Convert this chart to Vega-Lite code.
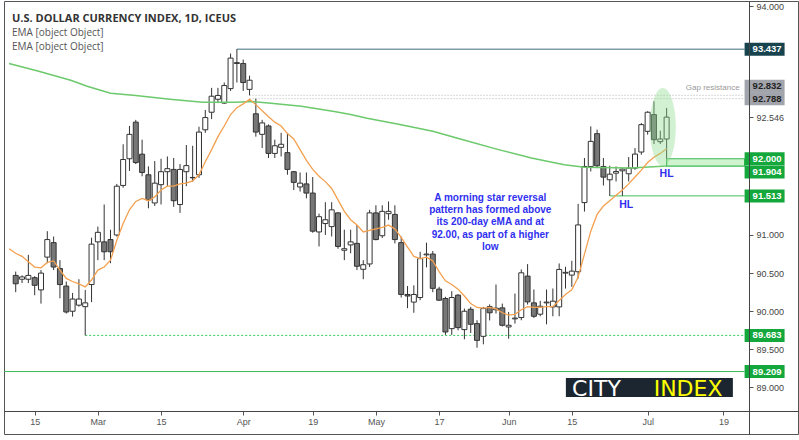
{
  "$schema": "https://vega.github.io/schema/vega-lite/v6.json",
  "width": 794,
  "height": 433,
  "autosize": {"type": "none"},
  "padding": {"left": 4, "top": 1, "right": 1, "bottom": 6},
  "background": "white",
  "config": {"view": {"stroke": "#555555", "strokeWidth": 1}},
  "title": {
    "text": "U.S. DOLLAR CURRENCY INDEX, 1D, ICEUS",
    "subtitle": ["EMA [object Object]", "EMA [object Object]"],
    "anchor": "start",
    "frame": "group",
    "orient": "top",
    "offset": -51,
    "dx": 8,
    "font": "Open Sans",
    "fontSize": 11,
    "fontWeight": "bold",
    "color": "#333333",
    "subtitleFont": "Open Sans",
    "subtitleFontSize": 10,
    "subtitleColor": "#555555",
    "subtitlePadding": 4,
    "subtitleLineHeight": 14
  },
  "datasets": {
    "candles": [
      {"t": -3, "o": 90.47, "h": 90.52, "l": 90.25, "c": 90.36},
      {"t": -2, "o": 90.42, "h": 90.47, "l": 90.37, "c": 90.45},
      {"t": -1, "o": 90.42, "h": 90.74, "l": 90.37, "c": 90.47},
      {"t": 0, "o": 90.44, "h": 90.46, "l": 90.21, "c": 90.34},
      {"t": 1, "o": 90.28, "h": 90.54, "l": 90.10, "c": 90.50},
      {"t": 2, "o": 90.71, "h": 91.05, "l": 90.63, "c": 90.94},
      {"t": 3, "o": 90.90, "h": 90.98, "l": 90.54, "c": 90.58},
      {"t": 4, "o": 90.56, "h": 90.67, "l": 90.17, "c": 90.35},
      {"t": 5, "o": 90.33, "h": 90.39, "l": 89.97, "c": 89.99},
      {"t": 6, "o": 90.00, "h": 90.24, "l": 89.93, "c": 90.16},
      {"t": 7, "o": 90.08, "h": 90.42, "l": 90.06, "c": 90.16},
      {"t": 8, "o": 90.06, "h": 90.28, "l": 89.683, "c": 90.11},
      {"t": 9, "o": 90.35, "h": 90.965, "l": 90.12, "c": 90.88},
      {"t": 10, "o": 90.91, "h": 91.11, "l": 90.67, "c": 91.035},
      {"t": 11, "o": 90.91, "h": 91.40, "l": 90.67, "c": 90.78},
      {"t": 12, "o": 90.94, "h": 91.07, "l": 90.63, "c": 90.78},
      {"t": 13, "o": 91.00, "h": 91.67, "l": 90.98, "c": 91.64},
      {"t": 14, "o": 91.65, "h": 92.19, "l": 91.62, "c": 91.99},
      {"t": 15, "o": 92.00, "h": 92.43, "l": 91.84, "c": 92.32},
      {"t": 16, "o": 92.48, "h": 92.51, "l": 91.93, "c": 91.95},
      {"t": 17, "o": 92.06, "h": 92.25, "l": 91.77, "c": 91.82},
      {"t": 18, "o": 91.79, "h": 91.90, "l": 91.35, "c": 91.46},
      {"t": 19, "o": 91.42, "h": 91.97, "l": 91.38, "c": 91.68},
      {"t": 20, "o": 91.66, "h": 92.00, "l": 91.40, "c": 91.83},
      {"t": 21, "o": 91.83, "h": 92.03, "l": 91.64, "c": 91.87},
      {"t": 22, "o": 91.86, "h": 92.01, "l": 91.37, "c": 91.45},
      {"t": 23, "o": 91.40, "h": 91.93, "l": 91.29, "c": 91.86},
      {"t": 24, "o": 91.83, "h": 92.18, "l": 91.64, "c": 91.91},
      {"t": 25, "o": 91.75, "h": 92.17, "l": 91.70, "c": 91.755},
      {"t": 26, "o": 91.79, "h": 92.42, "l": 91.75, "c": 92.35},
      {"t": 27, "o": 92.38, "h": 92.64, "l": 92.34, "c": 92.54},
      {"t": 28, "o": 92.61, "h": 92.93, "l": 92.52, "c": 92.82},
      {"t": 29, "o": 92.78, "h": 92.93, "l": 92.73, "c": 92.83},
      {"t": 30, "o": 92.73, "h": 93.00, "l": 92.72, "c": 92.96},
      {"t": 31, "o": 92.92, "h": 93.38, "l": 92.89, "c": 93.32},
      {"t": 32, "o": 93.26, "h": 93.437, "l": 93.00, "c": 93.25},
      {"t": 33, "o": 93.25, "h": 93.30, "l": 92.89, "c": 93.00},
      {"t": 34, "o": 92.91, "h": 93.09, "l": 92.832, "c": 93.03},
      {"t": 35, "o": 92.59, "h": 92.788, "l": 92.29, "c": 92.35},
      {"t": 36, "o": 92.32, "h": 92.51, "l": 92.14, "c": 92.47},
      {"t": 37, "o": 92.43, "h": 92.45, "l": 92.01, "c": 92.07},
      {"t": 38, "o": 92.07, "h": 92.25, "l": 92.01, "c": 92.17},
      {"t": 39, "o": 92.15, "h": 92.34, "l": 92.03, "c": 92.19},
      {"t": 40, "o": 92.08, "h": 92.34, "l": 91.79, "c": 91.86},
      {"t": 41, "o": 91.83, "h": 91.84, "l": 91.59, "c": 91.69},
      {"t": 42, "o": 91.63, "h": 91.82, "l": 91.57, "c": 91.68},
      {"t": 43, "o": 91.67, "h": 91.82, "l": 91.48, "c": 91.55},
      {"t": 44, "o": 91.55, "h": 91.76, "l": 91.03, "c": 91.05},
      {"t": 45, "o": 91.04, "h": 91.28, "l": 90.85, "c": 91.24},
      {"t": 46, "o": 91.15, "h": 91.43, "l": 91.00, "c": 91.20},
      {"t": 47, "o": 91.11, "h": 91.43, "l": 90.98, "c": 91.33},
      {"t": 48, "o": 91.29, "h": 91.30, "l": 90.82, "c": 90.85},
      {"t": 49, "o": 90.80, "h": 91.07, "l": 90.67, "c": 90.82},
      {"t": 50, "o": 90.87, "h": 91.07, "l": 90.76, "c": 90.91},
      {"t": 51, "o": 90.89, "h": 91.13, "l": 90.54, "c": 90.59},
      {"t": 52, "o": 90.55, "h": 90.67, "l": 90.42, "c": 90.61},
      {"t": 53, "o": 90.62, "h": 91.33, "l": 90.58, "c": 91.29},
      {"t": 54, "o": 91.29, "h": 91.39, "l": 90.93, "c": 90.94},
      {"t": 55, "o": 90.99, "h": 91.39, "l": 90.96, "c": 91.31},
      {"t": 56, "o": 91.28, "h": 91.44, "l": 91.20, "c": 91.31},
      {"t": 57, "o": 91.27, "h": 91.39, "l": 90.89, "c": 90.94},
      {"t": 58, "o": 90.90, "h": 90.98, "l": 90.18, "c": 90.22},
      {"t": 59, "o": 90.22, "h": 90.33, "l": 90.04, "c": 90.20},
      {"t": 60, "o": 90.12, "h": 90.34, "l": 89.98, "c": 90.22},
      {"t": 61, "o": 90.18, "h": 90.78, "l": 90.145, "c": 90.69},
      {"t": 62, "o": 90.74, "h": 90.90, "l": 90.575, "c": 90.75},
      {"t": 63, "o": 90.75, "h": 90.79, "l": 90.25, "c": 90.30},
      {"t": 64, "o": 90.29, "h": 90.32, "l": 90.136, "c": 90.145},
      {"t": 65, "o": 90.167, "h": 90.19, "l": 89.69, "c": 89.728},
      {"t": 66, "o": 89.772, "h": 90.263, "l": 89.69, "c": 90.18},
      {"t": 67, "o": 90.211, "h": 90.224, "l": 89.75, "c": 89.785},
      {"t": 68, "o": 89.759, "h": 90.035, "l": 89.632, "c": 90.00},
      {"t": 69, "o": 90.026, "h": 90.057, "l": 89.715, "c": 89.829},
      {"t": 70, "o": 89.838, "h": 89.882, "l": 89.522, "c": 89.618},
      {"t": 71, "o": 89.671, "h": 90.057, "l": 89.566, "c": 90.035},
      {"t": 72, "o": 90.06, "h": 90.09, "l": 89.88, "c": 89.98},
      {"t": 73, "o": 90.02, "h": 90.35, "l": 89.97, "c": 90.04},
      {"t": 74, "o": 90.044, "h": 90.10, "l": 89.80, "c": 89.816},
      {"t": 75, "o": 89.794, "h": 89.991, "l": 89.64, "c": 89.816},
      {"t": 76, "o": 89.90, "h": 90.232, "l": 89.838, "c": 89.91},
      {"t": 77, "o": 89.917, "h": 90.548, "l": 89.882, "c": 90.504},
      {"t": 78, "o": 90.461, "h": 90.618, "l": 90.088, "c": 90.123},
      {"t": 79, "o": 90.11, "h": 90.285, "l": 89.912, "c": 89.934},
      {"t": 80, "o": 89.961, "h": 90.136, "l": 89.934, "c": 90.066},
      {"t": 81, "o": 90.11, "h": 90.285, "l": 89.829, "c": 90.12},
      {"t": 82, "o": 90.057, "h": 90.298, "l": 89.934, "c": 90.132},
      {"t": 83, "o": 90.057, "h": 90.627, "l": 89.934, "c": 90.548},
      {"t": 84, "o": 90.50, "h": 90.583, "l": 90.298, "c": 90.51},
      {"t": 85, "o": 90.474, "h": 90.662, "l": 90.32, "c": 90.526},
      {"t": 86, "o": 90.518, "h": 91.408, "l": 90.43, "c": 91.132},
      {"t": 87, "o": 91.425, "h": 92.009, "l": 91.307, "c": 91.899},
      {"t": 88, "o": 91.899, "h": 92.425, "l": 91.833, "c": 92.228},
      {"t": 89, "o": 92.329, "h": 92.382, "l": 91.877, "c": 91.908},
      {"t": 90, "o": 91.899, "h": 92.009, "l": 91.649, "c": 91.759},
      {"t": 91, "o": 91.724, "h": 91.908, "l": 91.513, "c": 91.798},
      {"t": 92, "o": 91.811, "h": 91.899, "l": 91.702, "c": 91.833},
      {"t": 93, "o": 91.842, "h": 91.877, "l": 91.513, "c": 91.864},
      {"t": 94, "o": 91.803, "h": 92.022, "l": 91.702, "c": 91.877},
      {"t": 95, "o": 91.877, "h": 92.14, "l": 91.855, "c": 92.061},
      {"t": 96, "o": 92.088, "h": 92.469, "l": 92.053, "c": 92.447},
      {"t": 97, "o": 92.36, "h": 92.623, "l": 92.316, "c": 92.61},
      {"t": 98, "o": 92.579, "h": 92.754, "l": 92.193, "c": 92.25},
      {"t": 99, "o": 92.224, "h": 92.368, "l": 92.193, "c": 92.259},
      {"t": 100, "o": 92.259, "h": 92.667, "l": 92.0, "c": 92.546}
    ],
    "ema_fast": [
      {"t": -4.06, "price": 90.82}, {"t": -3, "price": 90.76}, {"t": -2, "price": 90.72}, {"t": -1, "price": 90.65},
      {"t": 0, "price": 90.58}, {"t": 1, "price": 90.57}, {"t": 2, "price": 90.64}, {"t": 3, "price": 90.66},
      {"t": 4, "price": 90.54}, {"t": 5, "price": 90.43}, {"t": 6, "price": 90.39}, {"t": 7, "price": 90.36},
      {"t": 8, "price": 90.32}, {"t": 9, "price": 90.41}, {"t": 10, "price": 90.54}, {"t": 11, "price": 90.58},
      {"t": 12, "price": 90.67}, {"t": 13, "price": 90.93}, {"t": 14, "price": 91.15}, {"t": 15, "price": 91.33},
      {"t": 16, "price": 91.44}, {"t": 17, "price": 91.48}, {"t": 18, "price": 91.45}, {"t": 19, "price": 91.50},
      {"t": 20, "price": 91.59}, {"t": 21, "price": 91.64}, {"t": 22, "price": 91.64}, {"t": 23, "price": 91.67},
      {"t": 24, "price": 91.68}, {"t": 25, "price": 91.71}, {"t": 26, "price": 91.79}, {"t": 27, "price": 91.96},
      {"t": 28, "price": 92.12}, {"t": 29, "price": 92.29}, {"t": 30, "price": 92.43}, {"t": 31, "price": 92.58},
      {"t": 32, "price": 92.67}, {"t": 33, "price": 92.72}, {"t": 34, "price": 92.78}, {"t": 35, "price": 92.71},
      {"t": 36, "price": 92.63}, {"t": 37, "price": 92.55}, {"t": 38, "price": 92.48}, {"t": 39, "price": 92.43},
      {"t": 40, "price": 92.33}, {"t": 41, "price": 92.26}, {"t": 42, "price": 92.12}, {"t": 43, "price": 91.98},
      {"t": 44, "price": 91.86}, {"t": 45, "price": 91.77}, {"t": 46, "price": 91.70}, {"t": 47, "price": 91.61},
      {"t": 48, "price": 91.46}, {"t": 49, "price": 91.31}, {"t": 50, "price": 91.20}, {"t": 51, "price": 91.13},
      {"t": 52, "price": 91.04}, {"t": 53, "price": 91.06}, {"t": 54, "price": 91.08}, {"t": 55, "price": 91.10},
      {"t": 56, "price": 91.13}, {"t": 57, "price": 91.08}, {"t": 58, "price": 90.97}, {"t": 59, "price": 90.84},
      {"t": 60, "price": 90.72}, {"t": 61, "price": 90.69}, {"t": 62, "price": 90.71}, {"t": 63, "price": 90.66},
      {"t": 64, "price": 90.52}, {"t": 65, "price": 90.40}, {"t": 66, "price": 90.35}, {"t": 67, "price": 90.29},
      {"t": 68, "price": 90.20}, {"t": 69, "price": 90.10}, {"t": 70, "price": 90.05}, {"t": 71, "price": 90.04},
      {"t": 72, "price": 90.05}, {"t": 73, "price": 90.03}, {"t": 74, "price": 89.98}, {"t": 75, "price": 89.95},
      {"t": 76, "price": 89.96}, {"t": 77, "price": 90.02}, {"t": 78, "price": 90.06}, {"t": 79, "price": 90.05},
      {"t": 80, "price": 90.05}, {"t": 81, "price": 90.06}, {"t": 82, "price": 90.06}, {"t": 83, "price": 90.14},
      {"t": 84, "price": 90.22}, {"t": 85, "price": 90.28}, {"t": 86, "price": 90.45}, {"t": 87, "price": 90.75},
      {"t": 88, "price": 91.05}, {"t": 89, "price": 91.27}, {"t": 90, "price": 91.38}, {"t": 91, "price": 91.45},
      {"t": 92, "price": 91.52}, {"t": 93, "price": 91.59}, {"t": 94, "price": 91.67}, {"t": 95, "price": 91.76},
      {"t": 96, "price": 91.85}, {"t": 97, "price": 91.95}, {"t": 98, "price": 92.02}, {"t": 99, "price": 92.07},
      {"t": 100, "price": 92.13}
    ],
    "ema_slow": [
      {"t": -4.06, "price": 93.25}, {"t": 0.5, "price": 93.15}, {"t": 5.7, "price": 93.03}, {"t": 8.3, "price": 92.95},
      {"t": 12, "price": 92.86}, {"t": 16, "price": 92.83}, {"t": 21.4, "price": 92.78}, {"t": 26.6, "price": 92.74},
      {"t": 31.8, "price": 92.74}, {"t": 34.4, "price": 92.75}, {"t": 37, "price": 92.73}, {"t": 42.2, "price": 92.69},
      {"t": 47.4, "price": 92.62}, {"t": 50, "price": 92.58}, {"t": 52.6, "price": 92.53}, {"t": 57.8, "price": 92.45},
      {"t": 63, "price": 92.36}, {"t": 68.2, "price": 92.24}, {"t": 73.4, "price": 92.12}, {"t": 78.6, "price": 92.01},
      {"t": 83.8, "price": 91.92}, {"t": 87, "price": 91.89}, {"t": 94.3, "price": 91.88}, {"t": 100, "price": 91.904}
    ],
    "levels": [
      {"price": 93.437, "t": 32, "type": "high"},
      {"price": 92.832, "t": 34, "type": "gap"},
      {"price": 92.788, "t": 34, "type": "gap"},
      {"price": 92.0, "t": 100, "type": "zone"},
      {"price": 91.904, "t": 100, "type": "zone"},
      {"price": 91.513, "t": 91, "type": "support"},
      {"price": 89.683, "t": 8, "type": "prior low"},
      {"price": 89.209, "t": -5, "type": "support"}
    ],
    "zone": [{"t": 100, "price": 92.0, "price2": 91.904}],
    "highlight": [{"t": 99.4, "price": 92.415}],
    "notes": [
      {"kind": "note", "text": "A morning star reversal\npattern has formed above\nits 200-day eMA and at\n92.00, as part of a higher\nlow", "t": 72.1, "price": 91.49},
      {"kind": "hl", "text": "HL", "t": 100.0, "price": 91.80},
      {"kind": "hl", "text": "HL", "t": 93.6, "price": 91.40},
      {"kind": "gap", "text": "Gap resistance", "t": 111.56, "price": 92.93}
    ],
    "logo": [
      {"part": "box", "t": 84.06, "price": 89.0},
      {"part": "CITY", "t": 88.9, "price": 88.98},
      {"part": "INDEX", "t": 103.4, "price": 88.98}
    ]
  },
  "encoding": {
    "x": {
      "field": "t", "type": "quantitative",
      "scale": {"domain": [-4.0625, 120], "nice": false, "zero": false},
      "axis": {
        "orient": "bottom", "offset": -23, "title": null, "grid": false, "zindex": 1,
        "values": [0, 10, 20, 33, 44, 54, 64, 75, 85, 97, 109],
        "labelExpr": "datum.value == 0 ? '15' : datum.value == 10 ? 'Mar' : datum.value == 20 ? '15' : datum.value == 33 ? 'Apr' : datum.value == 44 ? '19' : datum.value == 54 ? 'May' : datum.value == 64 ? '17' : datum.value == 75 ? 'Jun' : datum.value == 85 ? '15' : datum.value == 97 ? 'Jul' : '19'",
        "domainColor": "#444444", "tickColor": "#555555", "tickSize": 4, "labelPadding": 2,
        "labelFont": "Liberation Sans", "labelFontSize": 9, "labelColor": "#555555",
        "labelFlush": false, "labelOverlap": false
      }
    },
    "y": {
      "field": "price", "type": "quantitative",
      "scale": {"domain": [88.39, 94.069], "nice": false, "zero": false},
      "axis": {
        "orient": "right", "offset": -49, "title": null, "grid": false, "zindex": 1,
        "values": [89, 89.5, 90, 90.5, 91, 92.546, 94], "format": ".3f",
        "domainColor": "#444444", "tickColor": "#555555", "tickSize": 4, "labelPadding": 3,
        "labelFont": "Liberation Sans", "labelFontSize": 9, "labelColor": "#444444",
        "labelOverlap": false, "labelFlush": false, "labelBound": false
      }
    }
  },
  "layer": [
    {
      "data": {"name": "zone"},
      "mark": {"type": "rect", "fill": "#cff3cf", "stroke": "#3dba55", "strokeWidth": 1.2},
      "encoding": {
        "x2": {"datum": 112.34},
        "y2": {"field": "price2"}
      }
    },
    {
      "data": {"name": "levels"},
      "transform": [{"filter": "datum.type != 'zone'"}],
      "mark": {"type": "rule", "strokeWidth": 1, "clip": true},
      "encoding": {
        "x2": {"datum": 112.34},
        "color": {
          "condition": [
            {"test": "datum.type == 'high'", "value": "#2f6170"},
            {"test": "datum.type == 'gap'", "value": "#b3b3b3"},
            {"test": "datum.type == 'prior low'", "value": "#34cc58"}
          ],
          "value": "#2fb34a"
        },
        "strokeDash": {
          "condition": [
            {"test": "datum.type == 'gap'", "value": [1, 2]},
            {"test": "datum.type == 'prior low'", "value": [2, 2]}
          ],
          "value": [1, 0]
        }
      }
    },
    {
      "data": {"name": "candles"},
      "mark": {"type": "rule", "color": "#333333", "strokeWidth": 1},
      "encoding": {
        "y": {"field": "l", "type": "quantitative", "scale": {"domain": [88.39, 94.069], "nice": false, "zero": false}},
        "y2": {"field": "h"}
      }
    },
    {
      "data": {"name": "candles"},
      "mark": {"type": "bar", "size": 5, "orient": "vertical", "stroke": "#333333", "strokeWidth": 1},
      "encoding": {
        "y": {"field": "o", "type": "quantitative", "scale": {"domain": [88.39, 94.069], "nice": false, "zero": false}},
        "y2": {"field": "c"},
        "fill": {"condition": {"test": "datum.c < datum.o", "value": "#777777"}, "value": "#ffffff"}
      }
    },
    {
      "data": {"name": "ema_slow"},
      "mark": {"type": "line", "color": "#6cc96c", "strokeWidth": 1.5, "clip": true},
      "encoding": {}
    },
    {
      "data": {"name": "ema_fast"},
      "mark": {"type": "line", "color": "#f4a04f", "strokeWidth": 1.3, "clip": true},
      "encoding": {}
    },
    {
      "data": {"name": "highlight"},
      "mark": {"type": "point", "shape": "M-13,0A13,39 0 1,0 13,0A13,39 0 1,0 -13,0Z", "size": 4, "filled": true, "fill": "#8fdc8f", "opacity": 0.4, "strokeWidth": 0}
    },
    {
      "data": {"name": "levels"},
      "transform": [{"filter": "datum.price != 92.832 && datum.price != 91.904"}],
      "mark": {"type": "point", "shape": "M0,-6.5H40V6.5H0Z", "size": 4, "filled": true, "opacity": 1, "strokeWidth": 0},
      "encoding": {
        "x": {"datum": 112.34, "type": "quantitative", "scale": {"domain": [-4.0625, 120], "nice": false, "zero": false}},
        "fill": {"condition": [{"test": "datum.type == 'high'", "value": "#17434f"}, {"test": "datum.type == 'gap'", "value": "#a1a4ab"}], "value": "#14a73c"}
      }
    },
    {
      "data": {"name": "levels"},
      "transform": [{"filter": "datum.price == 92.832"}],
      "mark": {"type": "point", "shape": "M0,-6.5H40V6.5H0Z", "size": 4, "filled": true, "opacity": 1, "strokeWidth": 0, "yOffset": -9},
      "encoding": {
        "x": {"datum": 112.34, "type": "quantitative", "scale": {"domain": [-4.0625, 120], "nice": false, "zero": false}},
        "fill": {"value": "#a1a4ab"}
      }
    },
    {
      "data": {"name": "levels"},
      "transform": [{"filter": "datum.price == 91.904"}],
      "mark": {"type": "point", "shape": "M0,-6.5H40V6.5H0Z", "size": 4, "filled": true, "opacity": 1, "strokeWidth": 0, "yOffset": 6},
      "encoding": {
        "x": {"datum": 112.34, "type": "quantitative", "scale": {"domain": [-4.0625, 120], "nice": false, "zero": false}},
        "fill": {"value": "#14a73c"}
      }
    },
    {
      "data": {"name": "levels"},
      "transform": [{"filter": "datum.price != 92.832 && datum.price != 91.904"}],
      "mark": {"type": "text", "align": "left", "baseline": "middle", "dx": 8, "font": "Liberation Sans", "fontSize": 9.5, "fontWeight": "bold"},
      "encoding": {
        "x": {"datum": 112.34, "type": "quantitative", "scale": {"domain": [-4.0625, 120], "nice": false, "zero": false}},
        "text": {"field": "price", "type": "quantitative", "format": ".3f"},
        "color": {"condition": {"test": "datum.type == 'gap'", "value": "#222222"}, "value": "#ffffff"}
      }
    },
    {
      "data": {"name": "levels"},
      "transform": [{"filter": "datum.price == 92.832"}],
      "mark": {"type": "text", "align": "left", "baseline": "middle", "dx": 8, "yOffset": -9, "font": "Liberation Sans", "fontSize": 9.5, "fontWeight": "bold", "color": "#222222"},
      "encoding": {
        "x": {"datum": 112.34, "type": "quantitative", "scale": {"domain": [-4.0625, 120], "nice": false, "zero": false}},
        "text": {"field": "price", "type": "quantitative", "format": ".3f"}
      }
    },
    {
      "data": {"name": "levels"},
      "transform": [{"filter": "datum.price == 91.904"}],
      "mark": {"type": "text", "align": "left", "baseline": "middle", "dx": 8, "yOffset": 6, "font": "Liberation Sans", "fontSize": 9.5, "fontWeight": "bold", "color": "#ffffff"},
      "encoding": {
        "x": {"datum": 112.34, "type": "quantitative", "scale": {"domain": [-4.0625, 120], "nice": false, "zero": false}},
        "text": {"field": "price", "type": "quantitative", "format": ".3f"}
      }
    },
    {
      "data": {"name": "notes"},
      "transform": [{"filter": "datum.kind == 'note'"}],
      "mark": {"type": "text", "align": "center", "baseline": "middle", "lineBreak": "\n", "lineHeight": 12.3, "font": "Liberation Sans", "fontSize": 10, "fontWeight": "bold", "color": "#2f2ff0"},
      "encoding": {"text": {"field": "text"}}
    },
    {
      "data": {"name": "notes"},
      "transform": [{"filter": "datum.kind == 'hl'"}],
      "mark": {"type": "text", "align": "center", "baseline": "middle", "font": "Liberation Sans", "fontSize": 10.5, "fontWeight": "bold", "color": "#2f2ff0"},
      "encoding": {"text": {"field": "text"}}
    },
    {
      "data": {"name": "notes"},
      "transform": [{"filter": "datum.kind == 'gap'"}],
      "mark": {"type": "text", "align": "right", "baseline": "middle", "font": "Liberation Sans", "fontSize": 8, "color": "#9a9a9a"},
      "encoding": {"text": {"field": "text"}}
    },
    {
      "data": {"name": "logo"},
      "transform": [{"filter": "datum.part == 'box'"}],
      "mark": {"type": "point", "shape": "M0,-9.5H167V9.5H0Z", "size": 4, "filled": true, "opacity": 1, "fill": "#1b2631", "strokeWidth": 0}
    },
    {
      "data": {"name": "logo"},
      "transform": [{"filter": "datum.part != 'box'"}],
      "mark": {"type": "text", "align": "center", "baseline": "middle", "font": "DejaVu Sans", "fontSize": 22, "fontWeight": "normal"},
      "encoding": {
        "text": {"field": "part"},
        "color": {"condition": {"test": "datum.part == 'CITY'", "value": "#ffffff"}, "value": "#ffff00"}
      }
    }
  ]
}
